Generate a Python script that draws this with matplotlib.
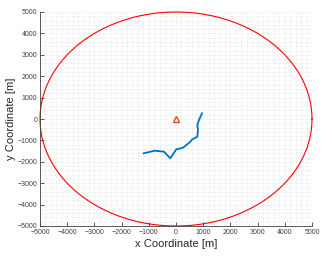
import numpy as np
import matplotlib
matplotlib.use("Agg")
import matplotlib.pyplot as plt
from matplotlib.ticker import MultipleLocator

# trajectory (m)
traj_x = [-1188, -783, -441, -210, 11, 257, 504, 599, 783, 809, 783, 846, 956]
traj_y = [-1603, -1481, -1528, -1836, -1416, -1341, -1089, -949, -827, -514, -280, -47, 266]
origin_x = [0]
origin_y = [0]
radius = 5000
ticks = [-5000, -4000, -3000, -2000, -1000, 0, 1000, 2000, 3000, 4000, 5000]

plt.rcParams['font.family'] = ['Liberation Sans', 'DejaVu Sans']

fig = plt.figure(figsize=(3.32, 2.57), dpi=100)
ax = fig.add_axes([40/332, 1 - 226/257, 272/332, 214/257])

th = np.linspace(0, 2*np.pi, 400)
ax.plot(radius*np.cos(th), radius*np.sin(th), color='red', lw=0.8, clip_on=False)
ax.plot(traj_x, traj_y, color=(0, 0.447, 0.741), lw=1.3)
ax.plot(origin_x, origin_y, marker='^', ms=4, mfc='none', mec=(0.85, 0.325, 0.098), mew=1.0, ls='none')

ax.set_xlim(-5000, 5000)
ax.set_ylim(-5000, 5000)
ax.set_xticks(ticks)
ax.set_yticks(ticks)
ax.xaxis.set_minor_locator(MultipleLocator(200))
ax.yaxis.set_minor_locator(MultipleLocator(200))
ax.grid(which='both', color='#dcdcdc', ls=':', lw=0.5)
ax.set_axisbelow(True)

for s in ['top', 'right']:
    ax.spines[s].set_visible(False)
for s in ['left', 'bottom']:
    ax.spines[s].set_color('#404040')
    ax.spines[s].set_linewidth(0.6)
ax.tick_params(which='major', direction='in', length=3, width=0.6, colors='#404040', labelsize=5, pad=2)
ax.tick_params(which='minor', length=0)

ax.set_xlabel('x Coordinate [m]', fontsize=8, color='#262626', labelpad=2)
ax.set_ylabel('y Coordinate [m]', fontsize=8, color='#262626', labelpad=1)

fig.savefig('out.png', dpi=100)
